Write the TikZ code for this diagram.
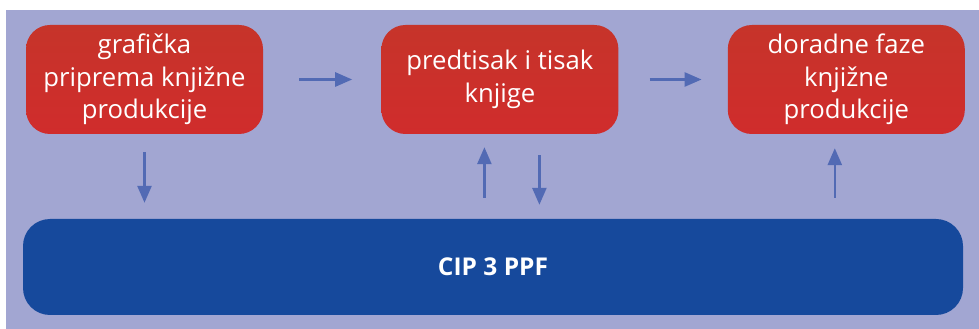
\documentclass[tikz,border=0pt]{standalone}
\usepackage{fontspec}
\setmainfont{Open Sans}
\usetikzlibrary{positioning,arrows.meta}
\definecolor{bgblue}{RGB}{162,166,210}
\definecolor{boxred}{RGB}{208,44,44}
\definecolor{boxredtop}{RGB}{198,52,42}
\definecolor{barblue}{RGB}{22,73,156}
\definecolor{arrblue}{RGB}{82,106,180}

\begin{document}
\begin{tikzpicture}
[node distance=118pt,auto,>={Triangle[length=17pt,width=14pt]},
phase/.style={rounded corners=24pt, top color=boxredtop, bottom color=boxred,
  minimum width=237pt, minimum height=109pt, text=white, align=center,
  font=\fontsize{25.7}{32.5}\selectfont},
bar/.style={fill=barblue, rounded corners=27pt, minimum width=940pt,
  minimum height=96pt, text=white, font=\fontsize{24.5}{28}\selectfont\bfseries},
flow/.style={->, draw=arrblue, line width=2.6pt}]
\useasboundingbox (0,0) rectangle (979pt,329pt);
\fill[bgblue] (6pt,0) rectangle (979pt,319pt);

\node[phase] at (144.5pt,249.5pt) (prep) {grafička\\priprema knjižne\\produkcije};
\node[phase, right=118pt of prep] (print) {predtisak i tisak\\knjige};
\node[phase, right=109pt of print] (finish) {doradne faze\\knjižne\\produkcije};

\node[bar] at (493pt,62pt) (cip) {CIP 3 PPF};

\draw[flow, shorten <=36pt, shorten >=29pt] (prep) -- (print);
\draw[flow, shorten <=31pt, shorten >=26pt] (print) -- (finish);

\draw[flow, shorten <=18pt, shorten >=16pt] (prep.south) -- (prep.south |- cip.north);
\draw[flow, shorten <=21pt, shorten >=13pt] ([xshift=-15.5pt]print.south |- cip.north) -- ([xshift=-15.5pt]print.south);
\draw[flow, shorten <=21pt, shorten >=14pt] ([xshift=39.5pt]print.south) -- ([xshift=39.5pt]print.south |- cip.north);
\draw[flow, shorten <=21pt, shorten >=14pt] ([xshift=-11.5pt]finish.south |- cip.north) -- ([xshift=-11.5pt]finish.south);
\end{tikzpicture}
\end{document}
